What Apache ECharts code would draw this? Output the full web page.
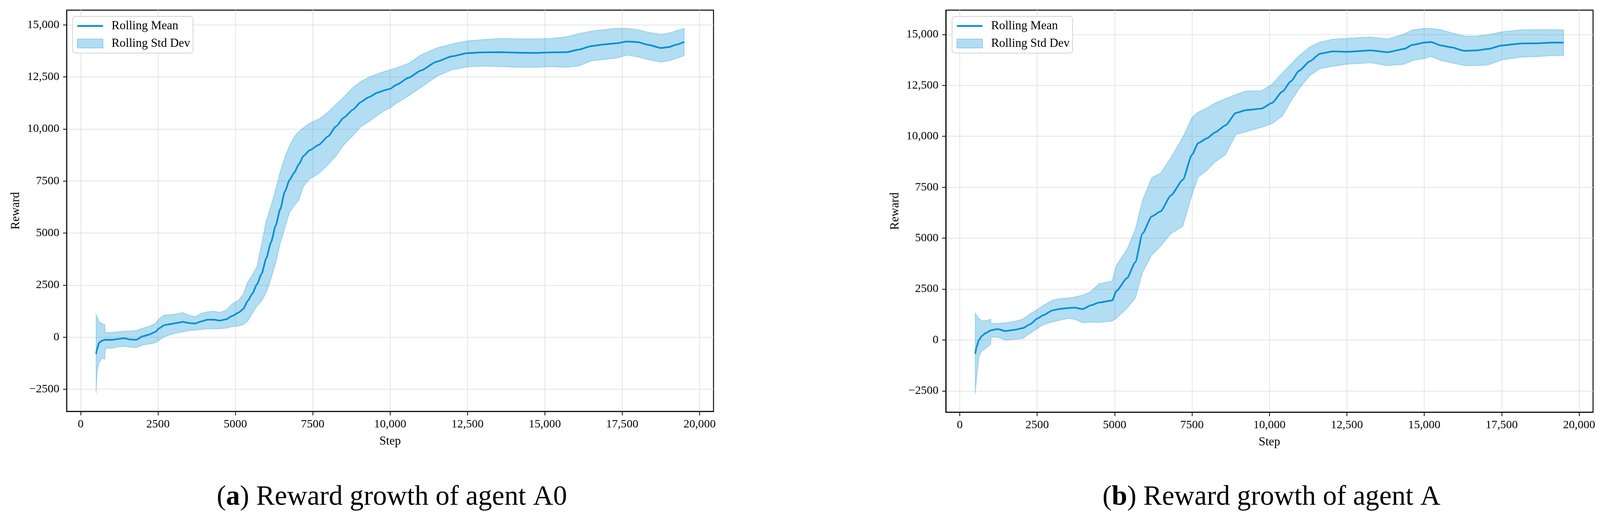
<!DOCTYPE html>
<html>
<head>
<meta charset="utf-8">
<script src="https://cdn.jsdelivr.net/npm/echarts@6/dist/echarts.min.js"></script>
<style>
html,body{margin:0;padding:0;background:#fff;overflow:hidden;}
#chart{width:100vw;height:100vh;}
</style>
</head>
<body>
<div id="chart"></div>
<script>
// ---------- data ----------
const xTicks = [0, 2500, 5000, 7500, 10000, 12500, 15000, 17500, 20000];
const yTicks = [-2500, 0, 2500, 5000, 7500, 10000, 12500, 15000];

// Agent A0
const stepsA0 = [500,530,600,700,780,800,1000,1200,1400,1600,1800,2000,2200,2400,2550,2700,2900,3100,3300,3500,3700,3900,4100,4300,4500,4700,4900,5100,5250,5400,5550,5700,5850,6000,6150,6300,6450,6600,6750,6900,7050,7200,7400,7700,8000,8250,8500,8800,9050,9300,9600,9850,10000,10200,10600,11000,11500,12000,12500,13000,13600,14200,14700,15200,15700,16100,16500,16900,17300,17650,18000,18350,18750,19000,19250,19500];
const meanA0 = [-800,-560,-260,-160,-130,-120,-130,-90,-50,-110,-120,40,120,240,440,580,630,680,740,680,660,760,840,840,800,860,1020,1180,1350,1740,2100,2550,3050,3800,4550,5350,6150,7000,7550,7900,8300,8700,8980,9240,9650,10120,10540,10930,11290,11520,11750,11870,11930,12120,12460,12810,13230,13490,13640,13680,13690,13660,13650,13680,13690,13810,13980,14060,14110,14200,14170,14040,13890,13930,14050,14180];
const upperA0 = [1080,990,750,650,600,220,230,260,290,300,320,430,520,650,900,1060,1080,1120,1180,1050,990,1150,1220,1250,1190,1300,1600,1780,2050,2650,3000,3400,4500,5600,6300,7100,7950,8650,9200,9620,9880,10060,10280,10480,10820,11180,11530,11990,12280,12480,12650,12780,12850,12930,13150,13560,13890,14080,14230,14290,14350,14330,14330,14350,14430,14580,14700,14770,14830,14830,14770,14640,14550,14600,14720,14830];
const lowerA0 = [-2690,-1700,-1200,-1000,-1050,-520,-540,-470,-440,-480,-500,-380,-330,-280,-130,20,120,200,250,320,340,370,400,400,410,430,500,540,600,780,1150,1500,1750,2150,2800,3550,4500,5250,6000,6300,6600,7250,7600,7870,8300,8700,9230,9680,10100,10340,10670,10910,11000,11230,11590,12000,12520,12840,12980,13020,12990,12960,12960,12990,12960,13030,13270,13340,13400,13550,13460,13330,13210,13270,13390,13520];

// Agent A
const stepsA = [500,540,620,710,840,1000,1010,1220,1470,1770,2030,2280,2500,2700,3000,3250,3500,3700,3970,4230,4500,4920,5060,5400,5670,5900,6200,6480,6820,7200,7500,7700,7980,8250,8580,8920,9260,9740,10080,10420,10690,10960,11300,11640,12050,12500,13270,13810,14350,14620,15000,15220,15540,15870,16300,16680,17060,17500,18140,18680,19110,19500];
const meanA = [-680,-340,0,200,340,470,480,540,440,500,580,780,1050,1220,1460,1530,1570,1590,1520,1700,1840,1940,2410,3040,3820,5230,6070,6310,7100,7860,9100,9670,9900,10200,10540,11150,11290,11360,11640,12200,12700,13220,13680,14060,14170,14150,14220,14130,14290,14490,14600,14630,14460,14370,14200,14220,14290,14460,14560,14570,14600,14600];
const upperA = [1330,1220,1060,950,950,1020,820,820,840,920,1020,1290,1500,1700,1960,2040,2060,2110,2200,2380,2760,2900,3680,4450,5440,6850,7970,8190,8960,9950,10930,11190,11390,11640,11850,12060,12230,12230,12550,13120,13540,13960,14390,14630,14770,14810,14880,14780,15020,15230,15300,15300,15230,15090,14920,14920,14990,15130,15230,15240,15240,15230];
const lowerA = [-2650,-1900,-820,-540,-410,-200,140,140,0,30,70,340,560,750,890,980,1060,1020,850,880,860,930,1070,1560,2060,3320,4170,4590,5230,5580,7130,8000,8330,8750,9100,10090,10230,10440,10620,11000,11710,12340,12980,13330,13440,13540,13610,13470,13540,13720,13820,13920,13720,13610,13470,13470,13500,13750,13890,13920,13960,13960];

const captionA0 = ') Reward growth of agent A0';
const captionA = ') Reward growth of agent A';

// ---------- styling / layout (reference is 4366 x 1332) ----------
const W = window.innerWidth || 4366, H = window.innerHeight || 1332;
const sx = W / 4366, sy = H / 1332, sf = Math.min(sx, sy);
const X = v => v * sx, Y = v => v * sy, F = v => v * sf;

const FONT = '"Liberation Serif", "Times New Roman", serif';
const LINE = '#008fd5';
const BAND = 'rgba(0,143,213,0.30)';
const EDGE = 'rgba(0,143,213,0.30)';

function fmt(v) {
  const a = Math.abs(v);
  const s = a >= 10000 ? a.toLocaleString('en-US') : String(a);
  return v < 0 ? '\u2212' + s : s;
}

function xAxis(gi) {
  return {
    type: 'value', gridIndex: gi, min: -450, max: 20450,
    name: 'Step', nameLocation: 'middle', nameGap: Y(61),
    nameTextStyle: {fontFamily: FONT, fontSize: F(33), color: '#000'},
    axisLine: {show: true, onZero: false, lineStyle: {color: '#000', width: F(2.5)}},
    axisTick: {show: true, length: Y(10), customValues: xTicks, lineStyle: {color: '#000', width: F(2)}},
    axisLabel: {customValues: xTicks, formatter: fmt, fontFamily: FONT, fontSize: F(32), color: '#000', margin: Y(18)},
    splitLine: {show: true, lineStyle: {color: '#e4e4e4', width: F(2)}}
  };
}
function yAxis(gi, min, max) {
  return {
    type: 'value', gridIndex: gi, min: min, max: max,
    name: 'Reward', nameLocation: 'middle', nameGap: X(122), nameRotate: 90,
    nameTextStyle: {fontFamily: FONT, fontSize: F(33), color: '#000'},
    axisLine: {show: true, onZero: false, lineStyle: {color: '#000', width: F(2.5)}},
    axisTick: {show: true, length: X(10), customValues: yTicks, lineStyle: {color: '#000', width: F(2)}},
    axisLabel: {customValues: yTicks, formatter: fmt, fontFamily: FONT, fontSize: F(32), color: '#000', margin: X(20)},
    splitLine: {show: true, lineStyle: {color: '#e4e4e4', width: F(2)}}
  };
}

function bandRenderer(steps, upper, lower) {
  return function (params, api) {
    if (params.dataIndex !== 0) return null;
    const pts = [];
    for (let i = 0; i < steps.length; i++) pts.push(api.coord([steps[i], upper[i]]));
    for (let i = steps.length - 1; i >= 0; i--) pts.push(api.coord([steps[i], lower[i]]));
    return {type: 'polygon', shape: {points: pts}, style: {fill: BAND, stroke: EDGE, lineWidth: F(2)}};
  };
}

function bandSeries(gi, steps, upper, lower) {
  return {
    type: 'custom', name: 'Rolling Std Dev', xAxisIndex: gi, yAxisIndex: gi,
    data: steps.map((s, i) => [s, upper[i], lower[i]]),
    encode: {x: 0, y: [1, 2]},
    renderItem: bandRenderer(steps, upper, lower),
    itemStyle: {color: BAND, borderColor: EDGE, borderWidth: F(1.5)},
    silent: true, z: 1
  };
}
function meanSeries(gi, steps, mean) {
  return {
    type: 'line', name: 'Rolling Mean', xAxisIndex: gi, yAxisIndex: gi,
    data: steps.map((s, i) => [s, mean[i]]),
    showSymbol: false, symbol: 'none',
    smooth: 0.2, smoothMonotone: 'x',
    lineStyle: {color: LINE, width: F(4.5)},
    itemStyle: {color: LINE},
    silent: true, z: 3
  };
}
function legend(left) {
  return {
    left: X(left), top: Y(42), orient: 'vertical',
    padding: [Y(9), X(8), Y(9), X(12)], itemGap: Y(14), itemWidth: X(70), itemHeight: Y(23),
    backgroundColor: 'rgba(255,255,255,0.85)', borderColor: '#d2d2d2', borderWidth: F(2), borderRadius: F(8),
    textStyle: {fontFamily: FONT, fontSize: F(33), color: '#000', padding: [0, 0, 0, X(18)]},
    selectedMode: false,
    data: [{name: 'Rolling Mean', icon: 'path://M0,0H70V5H0Z'}, {name: 'Rolling Std Dev', icon: 'rect'}]
  };
}
function caption(center, letter, text) {
  return {
    left: X(center), top: Y(1234), textAlign: 'center',
    text: '({b|' + letter + '}' + text,
    textStyle: {fontFamily: FONT, fontSize: F(76), fontWeight: 'normal', color: '#000',
      rich: {b: {fontFamily: FONT, fontSize: F(76), fontWeight: 'bold', color: '#000'}}}
  };
}

const chart = echarts.init(document.getElementById('chart'), null, {renderer: 'canvas', width: W, height: H});
chart.setOption({
  animation: false,
  backgroundColor: '#fff',
  title: [caption(1064, 'a', captionA0), caption(3464, 'b', captionA)],
  legend: [legend(198), legend(2598)],
  grid: [
    {left: X(182), right: X(4366 - 1947), top: Y(26), bottom: Y(1332 - 1054), show: true, borderColor: '#000', borderWidth: F(2.5), backgroundColor: 'transparent'},
    {left: X(2581), right: X(4366 - 4347), top: Y(26), bottom: Y(1332 - 1056), show: true, borderColor: '#000', borderWidth: F(2.5), backgroundColor: 'transparent'}
  ],
  xAxis: [xAxis(0), xAxis(1)],
  yAxis: [yAxis(0, -3566, 15706), yAxis(1, -3547, 16195)],
  series: [
    bandSeries(0, stepsA0, upperA0, lowerA0),
    meanSeries(0, stepsA0, meanA0),
    bandSeries(1, stepsA, upperA, lowerA),
    meanSeries(1, stepsA, meanA)
  ]
});
window.addEventListener('resize', () => chart.resize());
</script>
</body>
</html>
